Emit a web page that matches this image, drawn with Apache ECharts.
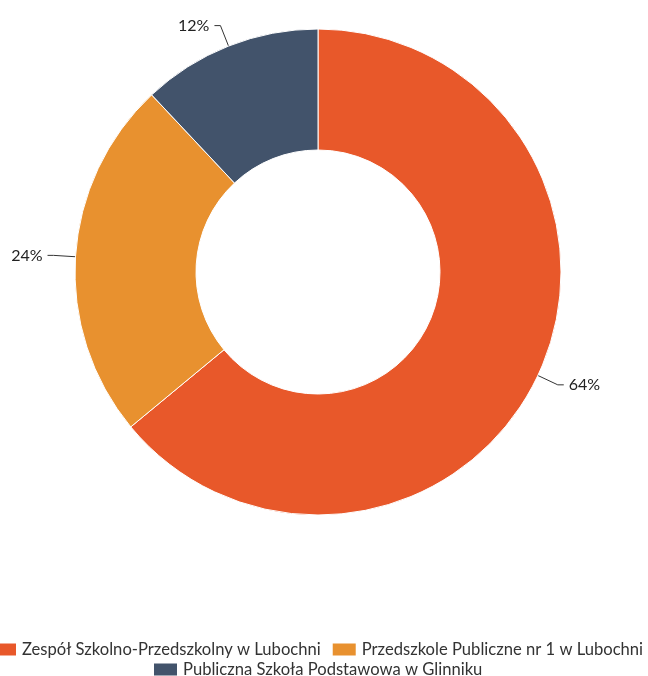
<!DOCTYPE html>
<html><head><meta charset="utf-8">
<script src="https://cdn.jsdelivr.net/npm/echarts@6/dist/echarts.min.js"></script>
<style>html,body{margin:0;padding:0;background:#fff}#c{width:648px;height:676px}</style>
</head><body><div id="c"></div>
<script>
var categories = ['Zespół Szkolno-Przedszkolny w Lubochni', 'Przedszkole Publiczne nr 1 w Lubochni', 'Publiczna Szkoła Podstawowa w Glinniku'];
var values = [64, 24, 12];
var colors = ['#E8582A', '#E8912F', '#42536B'];
var legendText = {fontFamily: 'Lato', fontSize: 16.6, lineHeight: 14, color: '#333'};
var chart = echarts.init(document.getElementById('c'));
chart.setOption({
  animation: false,
  color: colors,
  textStyle: {fontFamily: 'Lato'},
  legend: [{
    top: 641, left: -9, itemWidth: 25, itemHeight: 14, itemGap: 10, padding: 0, width: 700,
    icon: 'rect', textStyle: legendText,
    data: categories.slice(0, 2)
  }, {
    top: 661, left: 152, itemWidth: 25, itemHeight: 14, itemGap: 10, padding: 0,
    icon: 'rect', textStyle: legendText,
    data: categories.slice(2)
  }],
  series: [{
    type: 'pie',
    center: [318, 272],
    radius: [122, 243],
    startAngle: 90,
    clockwise: true,
    avoidLabelOverlap: false,
    itemStyle: {borderColor: '#fff', borderWidth: 1},
    label: {formatter: '{d}%', fontFamily: 'Lato', fontSize: 16, color: '#222'},
    labelLine: {length: 22, length2: 6, lineStyle: {color: '#333', width: 1}},
    emphasis: {disabled: true},
    data: categories.map(function(n, i){ return {name: n, value: values[i]}; })
  }]
});
</script></body></html>
